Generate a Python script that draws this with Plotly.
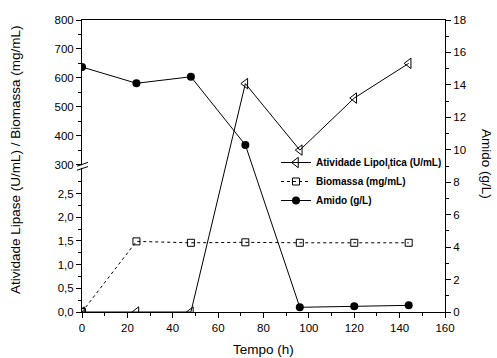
import plotly.graph_objects as go

# ---------------- data ----------------
tempo = [0, 24, 48, 72, 96, 120, 144]
lipase = [0, 0, 0, 580, 350, 530, 650]          # U/mL (left, broken axis)
biomassa = [0, 1.49, 1.46, 1.47, 1.46, 1.46, 1.46]  # mg/mL (left, broken axis)
amido = [15.1, 14.1, 14.5, 10.3, 0.29, 0.35, 0.41]  # g/L (right axis)

x_ticks = [0, 20, 40, 60, 80, 100, 120, 140, 160]
left_low_ticks = [0.0, 0.5, 1.0, 1.5, 2.0, 2.5]
left_high_ticks = [300, 400, 500, 600, 700, 800]
left_low_minor = [0.25, 0.75, 1.25, 1.75, 2.25, 2.75]
left_high_minor = [350, 450, 550, 650, 750]
right_ticks = list(range(0, 19, 2))

# ---------------- broken-axis scale ----------------
LOW_MAX, LOW_FRAC = 3.0, 0.487
HIGH_MIN, HIGH_MAX, HIGH_FRAC0 = 300.0, 800.0, 0.505


def brk(v):
    if v <= LOW_MAX:
        return v / LOW_MAX * LOW_FRAC
    return HIGH_FRAC0 + (v - HIGH_MIN) / (HIGH_MAX - HIGH_MIN) * (1 - HIGH_FRAC0)


def fmt(v):
    return f"{v:.1f}".replace(".", ",")


tickvals = [brk(v) for v in left_low_ticks] + [brk(v) for v in left_high_ticks]
ticktext = [fmt(v) for v in left_low_ticks] + [str(v) for v in left_high_ticks]
minorvals = [brk(v) for v in left_low_minor] + [brk(v) for v in left_high_minor]

FONT = "Liberation Sans, Arial, sans-serif"

fig = go.Figure()
fig.add_trace(go.Scatter(
    x=tempo, y=[brk(v) for v in lipase], customdata=lipase,
    name="Atividade Lipol<sub>í</sub>tica (U/mL)", mode="lines+markers",
    line=dict(color="black", width=1),
    marker=dict(symbol="triangle-left-open", size=9, color="black", line=dict(width=1)),
    yaxis="y"))
fig.add_trace(go.Scatter(
    x=tempo, y=[brk(v) for v in biomassa], customdata=biomassa,
    name="Biomassa (mg/mL)", mode="lines+markers",
    line=dict(color="black", width=1, dash="3px,3px"),
    marker=dict(symbol="square-open", size=7, color="black", line=dict(width=1)),
    yaxis="y"))
fig.add_trace(go.Scatter(
    x=tempo, y=amido,
    name="Amido (g/L)", mode="lines+markers",
    line=dict(color="black", width=1),
    marker=dict(symbol="circle", size=8, color="black"),
    yaxis="y2"))

L, R, T, B = 82, 52, 20, 46
W, H = 497, 358
pw, ph = W - L - R, H - T - B


def px(xp):
    return (xp - L) / pw


def py(yp):
    return (H - B - yp) / ph


axis_common = dict(showline=True, linecolor="black", linewidth=1, ticks="outside",
                   tickcolor="black", ticklen=5, tickwidth=1, showgrid=False,
                   zeroline=False, tickfont=dict(family=FONT, size=11.5, color="black"))

fig.update_layout(
    width=W, height=H, autosize=False,
    margin=dict(l=L, r=R, t=T, b=B),
    paper_bgcolor="white", plot_bgcolor="white",
    font=dict(family=FONT, color="black"),
    xaxis=dict(range=[0, 160], tickvals=x_ticks, mirror=True,
               minor=dict(dtick=10, ticks="outside", ticklen=3, tickcolor="black"),
               **axis_common),
    yaxis=dict(range=[0, 1], tickvals=tickvals, ticktext=ticktext,
               minor=dict(tickvals=minorvals, ticks="outside", ticklen=3, tickcolor="black"),
               **axis_common),
    yaxis2=dict(range=[0, 18], tickvals=right_ticks, overlaying="y", side="right",
                minor=dict(dtick=1, ticks="outside", ticklen=3, tickcolor="black"),
                **axis_common),
    showlegend=True,
    legend=dict(x=px(276), y=py(148), xanchor="left", yanchor="top",
                bgcolor="rgba(0,0,0,0)", borderwidth=0,
                font=dict(family=FONT, size=10, color="black", weight="bold"),
                itemwidth=30, tracegroupgap=0),
    annotations=[
        dict(text="Atividade Lipase (U/mL) / Biomassa (mg/mL)", xref="paper", yref="paper",
             x=px(15), y=py(160), xanchor="center", yanchor="middle", textangle=-90,
             showarrow=False, font=dict(family=FONT, size=13.5, color="black")),
        dict(text="Amido (g/L)", xref="paper", yref="paper",
             x=px(487), y=py(164), xanchor="center", yanchor="middle", textangle=90,
             showarrow=False, font=dict(family=FONT, size=13.5, color="black")),
        dict(text="Tempo (h)", xref="paper", yref="paper",
             x=px(263), y=py(349), xanchor="center", yanchor="middle",
             showarrow=False, font=dict(family=FONT, size=13.5, color="black")),
    ],
    shapes=[
        dict(type="rect", xref="paper", yref="paper", x0=px(79), x1=px(85),
             y0=py(165.2), y1=py(167.8), fillcolor="white", line=dict(width=0), layer="above"),
        dict(type="line", xref="paper", yref="paper", x0=px(77), y0=py(166.2),
             x1=px(88), y1=py(162.4), line=dict(color="black", width=1)),
        dict(type="line", xref="paper", yref="paper", x0=px(77), y0=py(170.2),
             x1=px(88), y1=py(166.6), line=dict(color="black", width=1)),
    ],
)

fig.write_html("out.html")
